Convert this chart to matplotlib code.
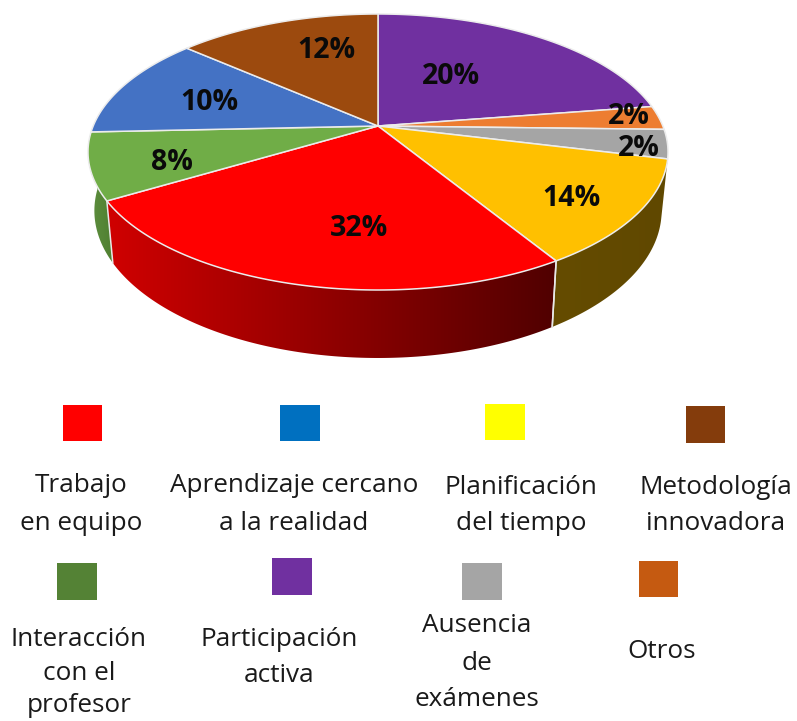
import numpy as np
import matplotlib
matplotlib.use("Agg")
import matplotlib.pyplot as plt
from matplotlib.colors import to_rgb
from matplotlib.patches import Polygon, Rectangle

# Printed data labels, clockwise from 12 o'clock
categories = ["Participación activa", "Otros", "Ausencia de exámenes", "Planificación del tiempo",
              "Trabajo en equipo", "Interacción con el profesor",
              "Aprendizaje cercano a la realidad", "Metodología innovadora"]
percent_labels = [20, 2, 2, 14, 32, 8, 10, 12]
# Slice sizes as measured off the drawn pie (the source's perspective does not follow the labels)
slice_sizes = [22.6, 2.8, 3.4, 12.4, 25.3, 7.8, 12.1, 13.6]

top_colors = ["#7030A0", "#ED7D31", "#A5A5A5", "#FFC000", "#FF0000", "#70AD47", "#4472C4", "#9C4A0E"]
# side wall colours, at the wall's left and right ends
side_left = [None, None, None, "#654C00", "#d00000", "#5f9040", None, None]
side_right = [None, None, None, "#604800", "#500000", "#4f7f30", None, None]

label_xy = [(451, 77), (629, 116), (639, 148), (571, 199), (359, 229), (172, 162), (209, 103), (326, 51)]

legend_items = [
    ("#FF0000", (63, 405, 39, 36), ["Trabajo", "en equipo"], 81, [486, 523]),
    ("#0070C0", (280, 405, 40, 36), ["Aprendizaje cercano", "a la realidad"], 294, [486, 523]),
    ("#FFFF00", (485, 404, 40, 36), ["Planificación", "del tiempo"], 521, [487, 524]),
    ("#843C0C", (686, 406, 39, 37), ["Metodología", "innovadora"], 716, [488, 524]),
    ("#548235", (57, 563, 40, 37), ["Interacción", "con el", "profesor"], 79, [639, 674, 706]),
    ("#7030A0", (272, 558, 40, 37), ["Participación", "activa"], 279, [639, 675]),
    ("#A5A5A5", (462, 563, 40, 37), ["Ausencia", "de", "exámenes"], 477, [626, 663, 699]),
    ("#C55A11", (639, 561, 39, 36), ["Otros"], 662, [651]),
]

FONT = "Open Sans"
CX, CY = 378.0, 126.0
TOP_R, FRONT_R = 112.0, 164.0
K = (FRONT_R - TOP_R) / (FRONT_R + TOP_R)
B = TOP_R * (1 + K)
A = 290.0 * np.sqrt(1 - K ** 2)


def rim(theta):
    """Perspective projection of a point on the pie's top rim (theta clockwise from 12 o'clock)."""
    u, v = np.sin(theta), np.cos(theta)
    w = 1 + K * v
    return CX + A * u / w, CY - B * v / w


def lower(x, y):
    """Matching point on the bottom rim."""
    return CX + 0.978 * (x - CX), CY + 57 + 1.067 * (y - CY)


fig = plt.figure(figsize=(7.97, 7.21), dpi=100)
ax = fig.add_axes([0, 0, 1, 1])
ax.set_xlim(0, 797)
ax.set_ylim(721, 0)
ax.axis("off")

edges = 2 * np.pi * np.concatenate([[0], np.cumsum(slice_sizes)]) / np.sum(slice_sizes)

# Side wall, one left-to-right gradient per front-facing slice
for i in range(len(slice_sizes)):
    if side_left[i] is None:
        continue
    ts = np.linspace(edges[i], edges[i + 1], 120)
    xt, yt = rim(ts)
    xb, yb = lower(xt, yt)
    pts = np.column_stack([np.r_[xt, xb[::-1]], np.r_[yt, yb[::-1]]])
    clip = Polygon(pts, closed=True, fc="none", ec="none", transform=ax.transData)
    ax.add_patch(clip)
    x0, x1 = pts[:, 0].min(), pts[:, 0].max()
    y0, y1 = pts[:, 1].min(), pts[:, 1].max()
    c0, c1 = np.array(to_rgb(side_left[i])), np.array(to_rgb(side_right[i]))
    grad = np.linspace(0, 1, 256)[None, :, None]
    img = c0[None, None, :] + (c1 - c0)[None, None, :] * grad
    im = ax.imshow(img, extent=(x0, x1, y1, y0), aspect="auto", zorder=1, interpolation="bilinear")
    im.set_clip_path(clip)
    # wall seam between neighbouring slices
    if i > 3:
        xa, ya = rim(edges[i])
        ax.plot([xa, lower(xa, ya)[0]], [ya, lower(xa, ya)[1]], color="#e8e8e8", lw=1.1, zorder=2)
    if i == 3:
        xa, ya = rim(edges[i + 1])
        ax.plot([xa, lower(xa, ya)[0]], [ya, lower(xa, ya)[1]], color="#e8e8e8", lw=1.1, zorder=2)

ax.set_xlim(0, 797)
ax.set_ylim(721, 0)

# Top face
for i in range(len(slice_sizes)):
    ts = np.linspace(edges[i], edges[i + 1], 120)
    x, y = rim(ts)
    pts = np.column_stack([np.r_[CX, x], np.r_[CY, y]])
    ax.add_patch(Polygon(pts, closed=True, fc=top_colors[i], ec="#ececec", lw=1.1, zorder=3,
                         joinstyle="round"))

for val, (lx, ly) in zip(percent_labels, label_xy):
    ax.text(lx, ly, f"{val}%", ha="center", va="center", fontsize=20.5, fontweight="bold",
            family=FONT, color="#0a0a0a", zorder=5)

for color, (rx, ry, rw, rh), lines, tx, tys in legend_items:
    ax.add_patch(Rectangle((rx, ry), rw, rh, fc=color, ec="none", zorder=3))
    for line, ty in zip(lines, tys):
        ax.text(tx, ty, line, ha="center", va="center", fontsize=18.8, family=FONT, color="#1a1a1a")

fig.savefig("out.png", dpi=100, facecolor="white")
